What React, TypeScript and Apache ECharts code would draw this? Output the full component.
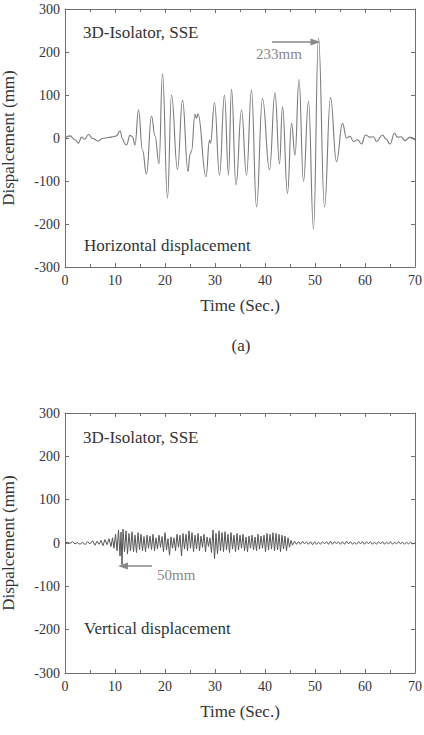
import React, { useEffect, useRef } from "react";
import * as echarts from "echarts";

// Horizontal displacement (time s, mm)
const horizontal: [number, number][] = [
  [0, 0], [1, 5], [2, -4], [2.7, -12], [3.3, 2], [3.9, -3], [4.7, 8], [5.5, -1],
  [6.7, -7], [7.5, -1], [8.7, 1], [9.7, 3], [10.3, 5], [11.0, 17], [11.5, -2],
  [12.0, -14], [12.3, -16], [13.0, 6], [13.5, 3], [14.0, -16], [14.7, 65],
  [15.5, -28], [16.3, -84], [17.3, 51], [18.0, 5], [18.8, -60], [19.5, 150],
  [20.5, -140], [21.3, 100], [22.5, -73], [23.5, 88], [24.6, -78], [25.0, -38],
  [25.3, -30], [26.0, 55], [26.3, 46], [26.6, 56], [28.2, -90], [28.9, -5],
  [29.1, -12], [29.9, 82], [30.9, -86], [31.9, 100], [32.7, -86], [33.3, 114],
  [34.2, -109], [35.3, 65], [36.3, -86], [37.3, 112], [38.3, -160], [39.5, 92],
  [40.9, -74], [42.0, 105], [42.9, -60], [43.5, 73], [44.5, -129], [45.3, 34],
  [46.0, -40], [46.8, 136], [47.7, -101], [48.7, 86], [49.7, -212], [50.7, 233],
  [51.9, -160], [53.1, 94], [54.3, -55], [55.5, 34], [56.3, 0], [57.0, 4],
  [57.7, -8], [58.5, -4], [59.3, -14], [60.1, 7], [61.0, 2], [61.7, 3],
  [62.3, -8], [63.5, 7], [64.2, -2], [65.0, -14], [65.9, 11], [66.5, 2],
  [67.2, 3], [68.0, -6], [69.0, 2], [70, -5],
];

// Vertical displacement (time s, mm)
const vertical: [number, number][] = [
  [0, 0], [0.5, 2], [1, -1], [1.5, 3], [2, -2], [2.5, 1], [3, -3], [3.5, 2],
  [4, -4], [4.5, 3], [5, -2], [5.5, 5], [6, -5], [6.4, 4], [6.8, -3], [7.2, 6],
  [7.6, -6], [8, 8], [8.4, -4], [8.8, 10], [9.2, -8], [9.5, 12], [9.8, -12],
  [10.1, 20], [10.4, -18], [10.7, 30], [11.0, -30], [11.2, 25], [11.4, -50],
  [11.6, 32], [11.9, -20], [12.2, 28], [12.5, -25], [12.8, 22], [13.1, -18],
  [13.4, 26], [13.7, -20], [14.0, 18], [14.3, -22], [14.6, 24], [14.9, -15],
  [15.2, 20], [15.5, -18], [15.8, 15], [16.1, -20], [16.4, 18], [16.7, -12],
  [17.0, 16], [17.3, -15], [17.6, 20], [17.9, -18], [18.2, 12], [18.5, -14],
  [18.8, 18], [19.1, -10], [19.4, 15], [19.7, -20], [20.0, 24], [20.3, -16],
  [20.6, 10], [20.9, -28], [21.2, 14], [21.5, -12], [21.8, 12], [22.1, -18],
  [22.4, 20], [22.7, -10], [23.0, 18], [23.3, -30], [23.6, 22], [23.9, -14],
  [24.2, 20], [24.5, -18], [24.8, 28], [25.1, -12], [25.4, 24], [25.7, -20],
  [26.0, 18], [26.3, -14], [26.6, 22], [26.9, -18], [27.2, 16], [27.5, -10],
  [27.8, 20], [28.1, -20], [28.4, 14], [28.7, -8], [29.0, 12], [29.3, -22],
  [29.6, 30], [29.9, -36], [30.2, 22], [30.5, -25], [30.8, 28], [31.1, -18],
  [31.4, 24], [31.7, -20], [32.0, 26], [32.3, -16], [32.6, 20], [32.9, -22],
  [33.2, 24], [33.5, -14], [33.8, 18], [34.1, -20], [34.4, 22], [34.7, -16],
  [35.0, 18], [35.3, -12], [35.6, 20], [35.9, -18], [36.2, 14], [36.5, -20],
  [36.8, 16], [37.1, -12], [37.4, 18], [37.7, -16], [38.0, 14], [38.3, -18],
  [38.6, 20], [38.9, -14], [39.2, 16], [39.5, -12], [39.8, 18], [40.1, -20],
  [40.4, 22], [40.7, -16], [41.0, 20], [41.3, -14], [41.6, 24], [41.9, -18],
  [42.2, 22], [42.5, -16], [42.8, 20], [43.1, -20], [43.4, 18], [43.7, -14],
  [44.0, 16], [44.3, -18], [44.6, 12], [44.9, -10], [45.2, 6], [45.5, -5],
  [45.9, 4], [46.3, -3], [46.7, 3], [47.1, -3], [47.5, 4], [47.9, -2],
  [48.3, 3], [48.7, -3], [49.1, 3], [49.5, -4], [49.9, 3], [50.3, -3],
  [50.7, 2], [51.1, -3], [51.5, 3], [51.9, -2], [52.3, 3], [52.7, -3],
  [53.1, 4], [53.5, -3], [53.9, 3], [54.3, -2], [54.7, 3], [55.1, -3],
  [55.5, 3], [55.9, -3], [56.3, 4], [56.7, -2], [57.1, 3], [57.5, -3],
  [57.9, 2], [58.3, -3], [58.7, 3], [59.1, -2], [59.5, 3], [59.9, -3],
  [60.3, 3], [60.7, -2], [61.1, 3], [61.5, -3], [61.9, 2], [62.3, -3],
  [62.7, 3], [63.1, -2], [63.5, 3], [63.9, -3], [64.3, 2], [64.7, -2],
  [65.1, 3], [65.5, -3], [65.9, 2], [66.3, -2], [66.7, 3], [67.1, -2],
  [67.5, 2], [67.9, -3], [68.3, 2], [68.7, -2], [69.1, 2], [69.5, -2], [70, 0],
];

const peakArrowH: [number, number][] = [[41.4, 223], [50.1, 223]];
const peakArrowV: [number, number][] = [[17.4, -53], [11.6, -53]];

const SERIF = "Liberation Serif";
const AXIS_COLOR = "#6f6f6f";
const TEXT_COLOR = "#333";

function xAxes(gridIndex: number) {
  const common = {
    type: "value" as const,
    gridIndex,
    min: 0,
    max: 70,
    interval: 10,
    splitLine: { show: false },
    axisLine: { onZero: false, lineStyle: { color: AXIS_COLOR, width: 1 } },
    axisTick: { inside: true, length: 4, lineStyle: { color: AXIS_COLOR } },
    minorTick: { show: true, splitNumber: 2, length: 3, lineStyle: { color: AXIS_COLOR } },
  };
  return [
    {
      ...common,
      position: "bottom",
      name: "Time (Sec.)",
      nameLocation: "middle",
      nameGap: 30,
      nameTextStyle: { fontFamily: SERIF, fontSize: 17, color: TEXT_COLOR },
      axisLabel: { fontFamily: SERIF, fontSize: 14, color: TEXT_COLOR, margin: 6 },
    },
    { ...common, position: "top", axisLabel: { show: false } },
  ];
}

function yAxes(gridIndex: number) {
  const common = {
    type: "value" as const,
    gridIndex,
    min: -300,
    max: 300,
    interval: 100,
    splitLine: { show: false },
    axisLine: { onZero: false, lineStyle: { color: AXIS_COLOR, width: 1 } },
    axisTick: { inside: true, length: 4, lineStyle: { color: AXIS_COLOR } },
  };
  return [
    {
      ...common,
      position: "left",
      name: "Dispalcement (mm)",
      nameLocation: "middle",
      nameGap: 48,
      nameRotate: 90,
      nameTextStyle: { fontFamily: SERIF, fontSize: 17, color: TEXT_COLOR },
      axisLabel: { fontFamily: SERIF, fontSize: 14, color: TEXT_COLOR, margin: 5 },
    },
    { ...common, position: "right", axisLabel: { show: false } },
  ];
}

function arrowLine(pts: [number, number][]) {
  return {
    silent: true,
    symbol: ["none", "triangle"],
    symbolSize: [7, 10],
    label: { show: false },
    lineStyle: { color: "#888", width: 1.5, type: "solid" },
    data: [[{ coord: pts[0] }, { coord: pts[1] }]],
  };
}

export default function App() {
  const ref = useRef<HTMLDivElement>(null);
  useEffect(() => {
    if (!ref.current) return;
    const chart = echarts.init(ref.current, undefined, { renderer: "svg" });
    const txt = (text: string, x: number, y: number, size: number, color: string, align = "left") => ({
      type: "text",
      x,
      y,
      style: {
        text,
        fontFamily: SERIF,
        fontSize: size,
        fill: color,
        textAlign: align,
        textVerticalAlign: "middle",
      },
    });
    chart.setOption({
      animation: false,
      backgroundColor: "#fff",
      grid: [
        { left: 65, top: 9, width: 350, height: 258, containLabel: false, outerBoundsMode: "none" },
        { left: 65, top: 413, width: 350, height: 260, containLabel: false, outerBoundsMode: "none" },
      ],
      xAxis: [...xAxes(0), ...xAxes(1)],
      yAxis: [...yAxes(0), ...yAxes(1)],
      series: [
        {
          type: "line",
          xAxisIndex: 0,
          yAxisIndex: 0,
          data: horizontal,
          showSymbol: false,
          smooth: 0.45,
          smoothMonotone: "x",
          lineStyle: { color: "#7a7a7a", width: 1.1 },
          markLine: arrowLine(peakArrowH),
        },
        {
          type: "line",
          xAxisIndex: 2,
          yAxisIndex: 2,
          data: vertical,
          showSymbol: false,
          lineStyle: { color: "#555", width: 1 },
          markLine: arrowLine(peakArrowV),
        },
      ],
      graphic: [
        txt("3D-Isolator, SSE", 83, 32, 17, TEXT_COLOR),
        txt("Horizontal displacement", 84, 245, 17, TEXT_COLOR),
        txt("233mm", 256, 54, 15, "#888"),
        txt("(a)", 241, 345, 17, TEXT_COLOR, "center"),
        txt("3D-Isolator, SSE", 83, 437, 17, TEXT_COLOR),
        txt("Vertical displacement", 84, 628, 17, TEXT_COLOR),
        txt("50mm", 157, 575, 15, "#888"),
      ],
    });
    return () => chart.dispose();
  }, []);
  return (
    <div
      ref={ref}
      style={{ position: "absolute", left: 0, top: 0, width: 424, height: 735 }}
    />
  );
}
